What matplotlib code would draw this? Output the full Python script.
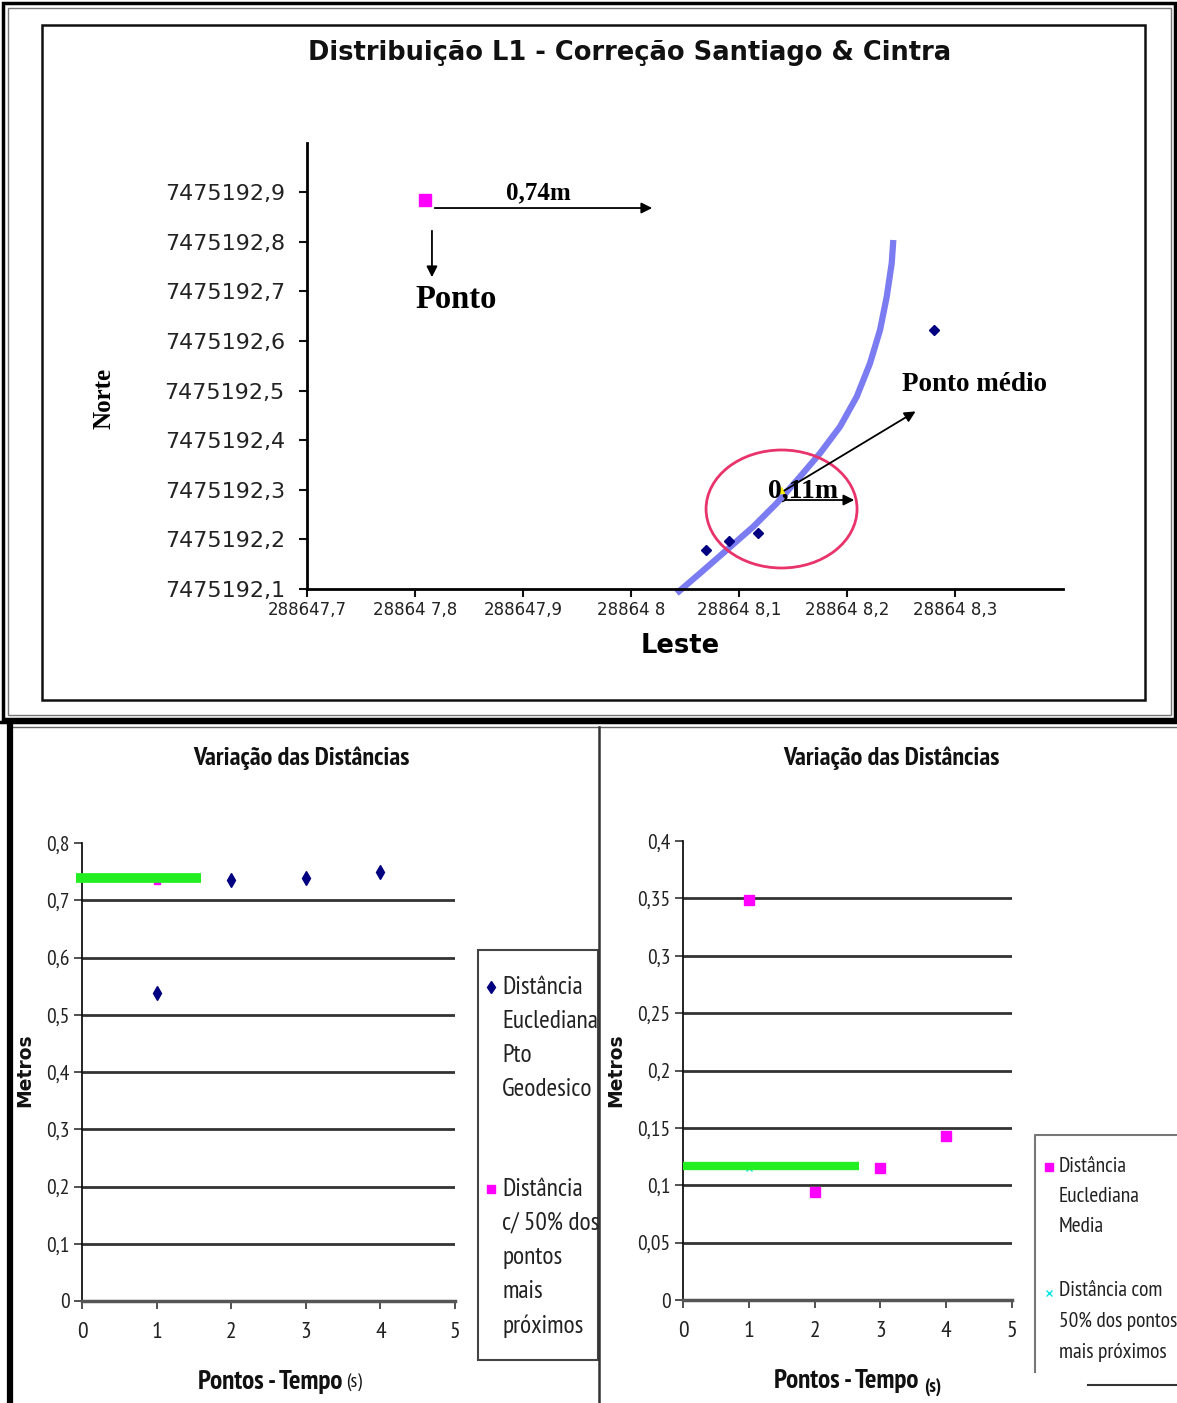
import matplotlib
matplotlib.use('Agg')
import matplotlib.pyplot as plt
from matplotlib import font_manager as fm
from matplotlib.patches import Ellipse, Rectangle

W, H = 1177, 1403

# narrow sans for the Excel-style lower panels (Arial Narrow look-alike)
_have = {f.name for f in fm.fontManager.ttflist}
NARROW = [n for n in ['Liberation Sans Narrow', 'Arial Narrow', 'PT Sans Narrow',
                      'Archivo Narrow', 'Roboto Condensed'] if n in _have][:1] + ['DejaVu Sans']

# === Top chart: Leste x Norte ===
leste_obs = [288648.069, 288648.091, 288648.118, 288648.281]
norte_obs = [7475192.179, 7475192.197, 7475192.213, 7475192.622]
leste_geo = [288647.809]
norte_geo = [7475192.884]
leste_media = [288648.139]
norte_media = [7475192.300]
curve_leste = [288648.0423, 288648.0639, 288648.0886, 288648.1132, 288648.1349,
               288648.1565, 288648.1750, 288648.1935, 288648.2090, 288648.2213,
               288648.2306, 288648.2368, 288648.2414, 288648.2429]
curve_norte = [7475192.0913, 7475192.1317, 7475192.1786, 7475192.2256, 7475192.2728,
               7475192.3264, 7475192.3736, 7475192.4272, 7475192.4877, 7475192.5550,
               7475192.6222, 7475192.6893, 7475192.7567, 7475192.8036]
circle_center = (288648.1394, 7475192.2613)
circle_size = (0.1398, 0.2379)

top_xticks = [288647.7, 288647.8, 288647.9, 288648.0, 288648.1, 288648.2, 288648.3]
top_xlabels = ['288647,7', '28864 7,8', '288647,9', '28864 8', '28864 8,1', '28864 8,2', '28864 8,3']
top_yticks = [7475192.1, 7475192.2, 7475192.3, 7475192.4, 7475192.5,
              7475192.6, 7475192.7, 7475192.8, 7475192.9]
top_ylabels = ['7475192,1', '7475192,2', '7475192,3', '7475192,4', '7475192,5',
               '7475192,6', '7475192,7', '7475192,8', '7475192,9']

# === Bottom-left: distancia ao ponto geodesico ===
pontos = [1, 2, 3, 4]
dist_geo = [0.538, 0.735, 0.739, 0.749]
dist50_left_x = [1]
dist50_left = [0.734]
green_left_x = [-0.08, 1.6]
green_left_y = 0.739
left_yticks = [0, 0.1, 0.2, 0.3, 0.4, 0.5, 0.6, 0.7, 0.8]
left_ylabels = ['0', '0,1', '0,2', '0,3', '0,4', '0,5', '0,6', '0,7', '0,8']
left_grid = [0.1, 0.2, 0.3, 0.4, 0.5, 0.6, 0.7]

# === Bottom-right: distancia media ===
dist_media = [0.349, 0.094, 0.115, 0.143]
dist50_right_x = [1]
dist50_right = [0.115]
green_right_x = [0, 2.67]
green_right_y = 0.117
right_yticks = [0, 0.05, 0.1, 0.15, 0.2, 0.25, 0.3, 0.35, 0.4]
right_ylabels = ['0', '0,05', '0,1', '0,15', '0,2', '0,25', '0,3', '0,35', '0,4']
right_grid = [0.05, 0.1, 0.15, 0.2, 0.25, 0.3, 0.35]
xticks_pts = [0, 1, 2, 3, 4, 5]

legend_left_1 = ['Distância', 'Euclediana', 'Pto', 'Geodesico']
legend_left_2 = ['Distância', 'c/ 50% dos', 'pontos', 'mais', 'próximos']
legend_right_1 = ['Distância', 'Euclediana', 'Media']
legend_right_2 = ['Distância com', '50% dos pontos', 'mais próximos']


fig = plt.figure(figsize=(W / 100, H / 100), dpi=100)
fig.patch.set_facecolor('white')


def ax_px(x0, y0, x1, y1):
    return fig.add_axes([x0 / W, 1 - y1 / H, (x1 - x0) / W, (y1 - y0) / H])


# background layer in pixel coords for frames / panel texts
bg = fig.add_axes([0, 0, 1, 1])
bg.set_xlim(0, W); bg.set_ylim(H, 0); bg.axis('off')

# top panel frames
bg.add_patch(Rectangle((3, 3), 1172, 716, fill=False, ec='black', lw=2.5))
bg.add_patch(Rectangle((8, 8), 1163, 707, fill=False, ec='#777', lw=1))
bg.add_patch(Rectangle((42, 25), 1103, 675, fill=False, ec='#111', lw=1.8))
# bottom panel frames
bg.plot([0, W], [722, 722], color='black', lw=2.5)
bg.plot([8, W], [727, 727], color='#666', lw=1)
bg.plot([10, 10], [722, H], color='black', lw=4.5)
bg.plot([599, 599], [727, H], color='#333', lw=1.8)

# legends (drawn by hand, as in the scanned sheet)
bg.add_patch(Rectangle((478, 950), 120, 410, fill=False, ec='#444', lw=1.5))
bg.plot([491], [987], 'd', color='#000080', ms=6)
bg.plot([491], [1189], 's', color='#ff00ff', ms=6)
for i, s in enumerate(legend_left_1):
    bg.text(502, 987 + 34 * i, s, fontsize=18.3, family=NARROW, va='center', color='#222')
for i, s in enumerate(legend_left_2):
    bg.text(502, 1189 + 34.3 * i, s, fontsize=18.3, family=NARROW, va='center', color='#222')

bg.plot([1035, 1035, W + 5], [1372, 1135, 1135], color='#777', lw=1.5)
bg.plot([1088, W], [1385, 1385], color='#333', lw=1.5)
bg.plot([1049], [1167], 's', color='#ff00ff', ms=6)
bg.plot([1049], [1293], 'x', color='#00e5e5', ms=5, mew=1)
for i, s in enumerate(legend_right_1):
    bg.text(1059, 1166 + 30 * i, s, fontsize=15.5, family=NARROW, va='center', color='#222')
for i, s in enumerate(legend_right_2):
    bg.text(1059, 1291 + 30.5 * i, s, fontsize=15.5, family=NARROW, va='center', color='#222')

# panel titles and axis labels
bg.text(630, 53, 'Distribuição L1 - Correção Santiago & Cintra', fontsize=18.5,
        fontweight='bold', ha='center', va='center', color='#111')
bg.text(680, 646, 'Leste', fontsize=18.5, fontweight='bold', ha='center', va='center')
bg.text(104, 398, 'Norte', fontsize=18, fontweight='bold', family='Liberation Serif',
        rotation=90, ha='center', va='center')
for cx in (301, 891):
    bg.text(cx, 758, 'Variação das Distâncias', fontsize=19, fontweight='bold',
            family=NARROW, ha='center', va='center', color='#111')
for cx in (25, 616):
    bg.text(cx, 1070, 'Metros', fontsize=13.5, fontweight='bold', rotation=90,
            ha='center', va='center', color='#111')
bg.text(342, 1382, 'Pontos - Tempo', fontsize=19.5, fontweight='bold', family=NARROW,
        ha='right', va='center', color='#111')
bg.text(346, 1383, '(s)', fontsize=14, family=NARROW, ha='left', va='center', color='#111')
bg.text(918, 1381, 'Pontos - Tempo', fontsize=19.5, fontweight='bold', family=NARROW,
        ha='right', va='center', color='#111')
bg.text(924, 1388, '(s)', fontsize=13.5, fontweight='bold', family=NARROW, ha='left',
        va='center', color='#111')

# --- top scatter ---
ax = ax_px(307, 142.6, 1063, 589)
ax.set_facecolor('none')
ax.set_xlim(288647.7, 288648.4)
ax.set_ylim(7475192.1, 7475193.0)
ax.plot(curve_leste, curve_norte, color='#7b7bf2', lw=4.5, solid_capstyle='butt',
        solid_joinstyle='round', clip_on=False, zorder=2)
ax.add_patch(Ellipse(circle_center, circle_size[0], circle_size[1], fill=False,
                     ec='#e8336b', lw=2, zorder=3))
ax.plot(leste_obs, norte_obs, 'D', color='#000080', ms=5.5, zorder=4)
ax.plot(leste_geo, norte_geo, 's', color='#ff00ff', ms=9, zorder=4)
ax.plot(leste_media, norte_media, '^', color='#ffee00', ms=4, zorder=3)

arrow = dict(arrowstyle='-|>', color='black', lw=1.3, mutation_scale=16)
ax.annotate('', xy=(288648.0222, 7475192.8681), xytext=(288647.8157, 7475192.8681), arrowprops=arrow)
ax.annotate('', xy=(288647.8157, 7475192.723), xytext=(288647.8157, 7475192.8278), arrowprops=arrow)
ax.annotate('', xy=(288648.2093, 7475192.2794), xytext=(288648.1398, 7475192.2794), arrowprops=arrow)
ax.annotate('', xy=(288648.2657, 7475192.4609), xytext=(288648.1398, 7475192.2956), arrowprops=arrow)
serif = dict(family='Liberation Serif', fontweight='bold', ha='center', va='center')
ax.text(288647.9139, 7475192.8984, '0,74m', fontsize=18, **serif)
ax.text(288647.838, 7475192.6827, 'Ponto', fontsize=23.5, **serif)
ax.text(288648.3176, 7475192.5133, 'Ponto médio', fontsize=19.5, **serif)
ax.text(288648.1593, 7475192.2976, '0,11m', fontsize=20, zorder=5, **serif)

ax.set_xticks(top_xticks)
ax.set_xticklabels(top_xlabels)
ax.set_yticks(top_yticks)
ax.set_yticklabels(top_ylabels)
for s in ('top', 'right'):
    ax.spines[s].set_visible(False)
for s in ('left', 'bottom'):
    ax.spines[s].set_linewidth(2)
ax.tick_params(axis='both', direction='out', length=6, width=1.5, color='#111')
ax.tick_params(axis='y', labelsize=16, labelcolor='#222', pad=10)
ax.tick_params(axis='x', labelsize=12, labelcolor='#222', pad=3)


def style_bottom(a, yt, yl, grid):
    a.set_facecolor('none')
    a.set_xlim(0, 5)
    a.set_xticks(xticks_pts)
    a.set_xticklabels([str(v) for v in xticks_pts])
    a.set_yticks(yt)
    a.set_yticklabels(yl)
    a.set_ylim(yt[0], yt[-1])
    a.hlines(grid, 0, 5, color='#333', lw=2, zorder=1)
    for s in ('top', 'right'):
        a.spines[s].set_visible(False)
    a.spines['left'].set_linewidth(1.2)
    a.spines['bottom'].set_linewidth(2.5)
    a.spines['bottom'].set_color('#555')
    a.tick_params(axis='both', direction='out', length=6, width=1.2, color='#333')
    for lab in a.get_yticklabels():
        lab.set_family(NARROW)
        lab.set_fontsize(15.5)
        lab.set_color('#222')
    for lab in a.get_xticklabels():
        lab.set_family(NARROW)
        lab.set_fontsize(17)
        lab.set_color('#222')
    a.tick_params(axis='x', pad=9)
    a.tick_params(axis='y', pad=3)


# --- bottom-left ---
axl = ax_px(82, 843, 455, 1301)
style_bottom(axl, left_yticks, left_ylabels, left_grid)
axl.plot(dist50_left_x, dist50_left, 's', color='#ff00ff', ms=5, zorder=3)
axl.plot(green_left_x, [green_left_y] * 2, color='#22ee22', lw=7, solid_capstyle='butt',
         clip_on=False, zorder=4)
axl.plot(pontos, dist_geo, 'd', color='#000080', ms=7, zorder=5)

# --- bottom-right ---
axr = ax_px(683, 841, 1012, 1300)
style_bottom(axr, right_yticks, right_ylabels, right_grid)
axr.plot(dist50_right_x, dist50_right, 'x', color='#00e5e5', ms=5, zorder=3)
axr.plot(green_right_x, [green_right_y] * 2, color='#22ee22', lw=6, solid_capstyle='butt',
         clip_on=False, zorder=4)
axr.plot(pontos, dist_media, 's', color='#ff00ff', ms=7, zorder=5)

fig.savefig('out.png', dpi=100)
